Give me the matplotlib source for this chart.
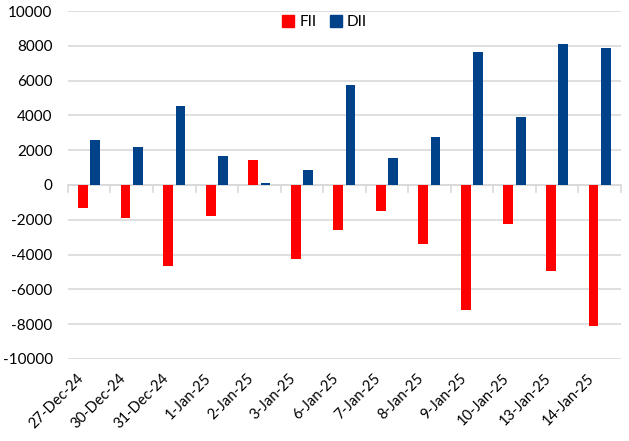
import matplotlib
matplotlib.use("Agg")
import matplotlib.pyplot as plt
import numpy as np
from matplotlib.lines import Line2D

categories = ["27-Dec-24", "30-Dec-24", "31-Dec-24", "1-Jan-25", "2-Jan-25", "3-Jan-25",
              "6-Jan-25", "7-Jan-25", "8-Jan-25", "9-Jan-25", "10-Jan-25", "13-Jan-25", "14-Jan-25"]
fii = [-1322, -1877, -4674, -1762, 1456, -4234, -2586, -1513, -3410, -7203, -2222, -4923, -8103]
dii = [2569, 2203, 4540, 1667, 115, 845, 5730, 1570, 2760, 7625, 3927, 8085, 7893]
yticks = [-10000, -8000, -6000, -4000, -2000, 0, 2000, 4000, 6000, 8000, 10000]

red = "#FF0000"
blue = "#00428A"

plt.rcParams['font.family'] = ['Lato', 'DejaVu Sans']

fig = plt.figure(figsize=(6.29, 4.41), dpi=100)
ax = fig.add_axes([0.108, 0.186, 0.879, 0.789])

x = np.arange(len(categories))
w = 0.23
ax.bar(x - 0.145, fii, width=w, color=red, label="FII", zorder=3)
ax.bar(x + 0.145, dii, width=w, color=blue, label="DII", zorder=3)

ax.set_xlim(-0.5, len(categories) - 0.5)
ax.set_ylim(-10000, 10000)
ax.set_yticks(yticks)
ax.set_yticklabels([str(v) for v in yticks], fontsize=11)
ax.yaxis.grid(True, color="#d9d9d9", linewidth=1.2, zorder=0)
ax.tick_params(axis='y', length=0, pad=11)
for s in ax.spines.values():
    s.set_visible(False)

# zero line and category separator ticks
ax.axhline(0, color="#d9d9d9", linewidth=1.2, zorder=2)
for b in np.arange(-0.5, len(categories), 1.0):
    ax.plot([b, b], [0, -400], color="#d9d9d9", linewidth=1.2, zorder=2, clip_on=False)

ax.set_xticks(x)
ax.set_xticklabels(categories, rotation=45, ha='right', rotation_mode='anchor', fontsize=10.5)
ax.tick_params(axis='x', length=0, pad=9)
for lbl in ax.get_xticklabels():
    lbl.set_transform(lbl.get_transform() + matplotlib.transforms.ScaledTranslation(-0.13, 0, fig.dpi_scale_trans))

handles = [Line2D([], [], marker='s', linestyle='none', color=red, markersize=8),
           Line2D([], [], marker='s', linestyle='none', color=blue, markersize=8)]
ax.legend(handles, ["FII", "DII"], loc='center', bbox_to_anchor=(0.463, 0.968), ncol=2,
          frameon=False, fontsize=11, handletextpad=0.2, columnspacing=0.8, handlelength=1.0)

fig.savefig("out.png", dpi=100)
